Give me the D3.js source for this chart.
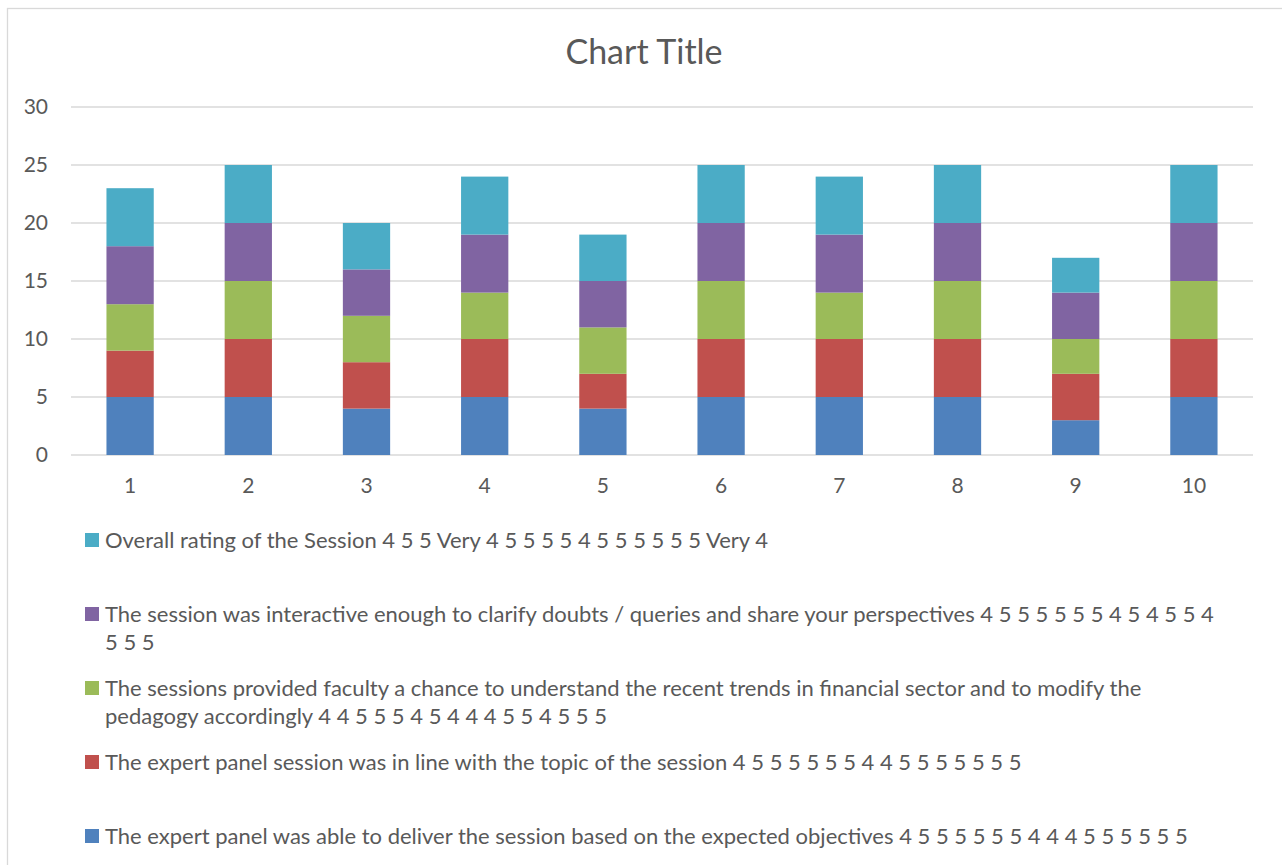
<!DOCTYPE html>
<html>
<head>
<meta charset="utf-8">
<title>Chart Title</title>
<script src="https://d3js.org/d3.v7.min.js"></script>
<style>
  body { margin: 0; background: #fff; }
  svg { display: block; font-family: Lato, 'Open Sans', sans-serif; }
  .tick text { fill: #595959; }
</style>
</head>
<body>
<svg id="chart"></svg>
<script>
// categories along the x axis
var categories = ["1", "2", "3", "4", "5", "6", "7", "8", "9", "10"];

// series values, bottom of the stack first
var objectives  = [5, 5, 4, 5, 4, 5, 5, 5, 3, 5];
var inLine      = [4, 5, 4, 5, 3, 5, 5, 5, 4, 5];
var trends      = [4, 5, 4, 4, 4, 5, 4, 5, 3, 5];
var interactive = [5, 5, 4, 5, 4, 5, 5, 5, 4, 5];
var overall     = [5, 5, 4, 5, 4, 5, 5, 5, 3, 5];

var seriesKeys = ["objectives", "inLine", "trends", "interactive", "overall"];
var seriesColors = ["#4f81bd", "#c0504d", "#9bbb59", "#8064a2", "#4bacc6"];

// legend labels (as wrapped in the original)
var legendLabels = [
  ["The expert panel was able to deliver the session based on the expected objectives 4 5 5 5 5 5 5 4 4 4 5 5 5 5 5 5"],
  ["The expert panel session was in line with the topic of the session 4 5 5 5 5 5 5 4 4 5 5 5 5 5 5 5"],
  ["The sessions provided faculty a chance to understand the recent trends in financial sector and to modify the",
   "pedagogy accordingly 4 4 5 5 5 4 5 4 4 4 5 5 4 5 5 5"],
  ["The session was interactive enough to clarify doubts / queries and share your perspectives 4 5 5 5 5 5 5 4 5 4 5 5 4",
   "5 5 5"],
  ["Overall rating of the Session 4 5 5 Very 4 5 5 5 5 4 5 5 5 5 5 5 Very 4"]
];

var yTicks = [0, 5, 10, 15, 20, 25, 30];

var W = 1282, H = 865;
var textColor = "#595959";
var gridColor = "#d9d9d9";

var svg = d3.select("#chart").attr("width", W).attr("height", H);

// chart frame
svg.append("rect")
  .attr("x", 7.5).attr("y", 8.5)
  .attr("width", W + 20).attr("height", H + 20)
  .attr("fill", "#fff")
  .attr("stroke", gridColor).attr("stroke-width", 1.3);

// title
svg.append("text")
  .attr("x", 644).attr("y", 64)
  .attr("text-anchor", "middle")
  .attr("fill", textColor)
  .style("font-size", "34px")
  .text("Chart Title");

var rows = categories.map(function(c, i) {
  return {
    cat: c,
    objectives: objectives[i],
    inLine: inLine[i],
    trends: trends[i],
    interactive: interactive[i],
    overall: overall[i]
  };
});

var x = d3.scaleBand()
  .domain(categories)
  .range([71, 1253])
  .paddingInner(0.6)
  .paddingOuter(0.3);

var y = d3.scaleLinear()
  .domain([0, 30])
  .range([455, 107]);

// gridlines
svg.append("g")
  .selectAll("line")
  .data(yTicks)
  .enter().append("line")
  .attr("x1", 71).attr("x2", 1253)
  .attr("y1", function(d) { return y(d); })
  .attr("y2", function(d) { return y(d); })
  .attr("stroke", gridColor)
  .attr("stroke-width", 1.3);

// stacked bars
var stacked = d3.stack().keys(seriesKeys)(rows);

svg.append("g")
  .selectAll("g")
  .data(stacked)
  .enter().append("g")
  .attr("fill", function(d, i) { return seriesColors[i]; })
  .selectAll("rect")
  .data(function(d) { return d; })
  .enter().append("rect")
  .attr("x", function(d) { return x(d.data.cat); })
  .attr("width", x.bandwidth())
  .attr("y", function(d) { return y(d[1]); })
  .attr("height", function(d) { return y(d[0]) - y(d[1]); });

// y axis labels
var yAxis = svg.append("g")
  .attr("transform", "translate(71,0)")
  .call(d3.axisLeft(y).tickValues(yTicks).tickSize(0).tickPadding(23));
yAxis.attr("font-family", null).attr("font-size", null);
yAxis.select(".domain").remove();
yAxis.selectAll("text").style("font-size", "21px");

// x axis labels
var xAxis = svg.append("g")
  .attr("transform", "translate(0,455)")
  .call(d3.axisBottom(x).tickSize(0).tickPadding(23));
xAxis.attr("font-family", null).attr("font-size", null);
xAxis.select(".domain").remove();
xAxis.selectAll("text").style("font-size", "21px");

// legend, top entry is the last series
var legendY = d3.scalePoint()
  .domain([4, 3, 2, 1, 0])
  .range([540, 836]);

var legend = svg.append("g")
  .selectAll("g")
  .data([4, 3, 2, 1, 0])
  .enter().append("g")
  .attr("transform", function(d) { return "translate(85," + legendY(d) + ")"; });

legend.append("rect")
  .attr("x", 0).attr("y", -7)
  .attr("width", 14).attr("height", 14)
  .attr("fill", function(d) { return seriesColors[d]; });

legend.append("text")
  .attr("fill", textColor)
  .style("font-size", "22px")
  .selectAll("tspan")
  .data(function(d) { return legendLabels[d]; })
  .enter().append("tspan")
  .attr("x", 20)
  .attr("y", function(d, i) { return 7.5 + i * 28.3; })
  .text(function(d) { return d; });
</script>
</body>
</html>
